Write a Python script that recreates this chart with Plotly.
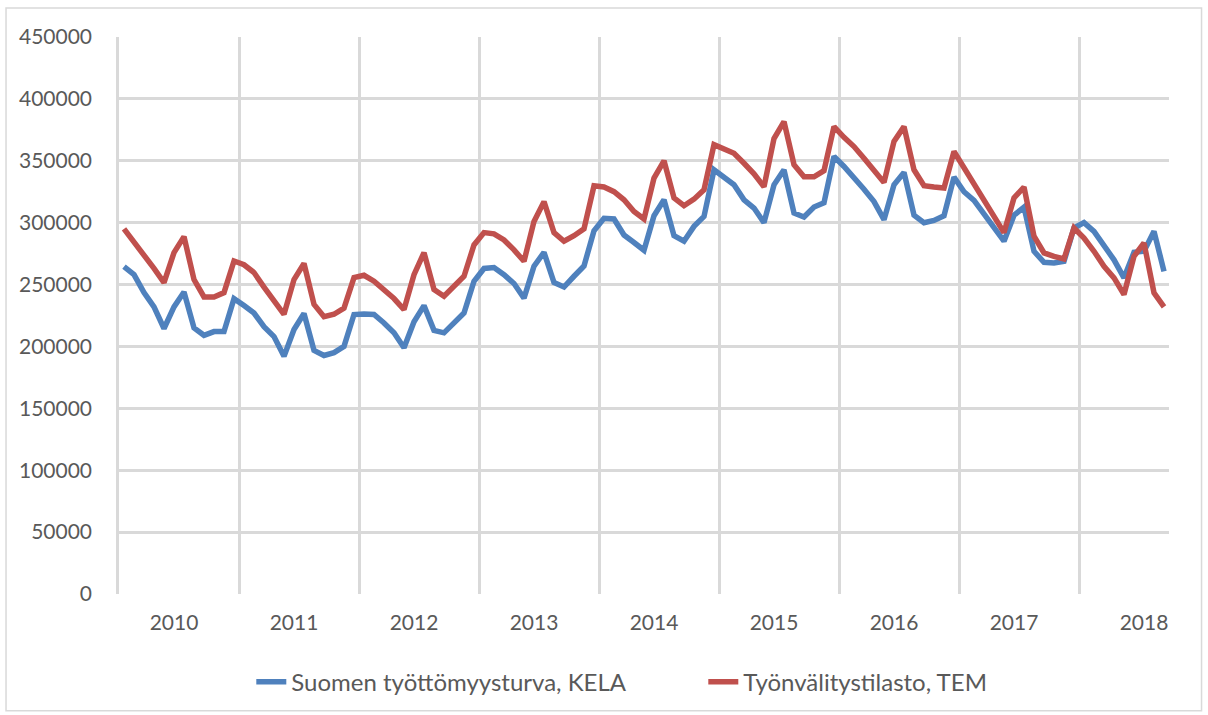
import plotly.graph_objects as go

# dati mensili gen 2010 - set 2018
months = list(range(105))

kela = [
    264500, 258000, 243500, 232000, 214500, 232000, 244000, 215000, 209000, 212000, 212000, 238600,
    233000, 227000, 216000, 208000, 192000, 213700, 226600, 196800, 192700, 195000, 200000, 225800,
    226300, 225800, 219000, 211000, 199000, 220000, 233000, 213000, 211000, 219000, 227000, 252700,
    263000, 263700, 258000, 250800, 239000, 264800, 276000, 251600, 248000, 256700, 265000, 293500,
    303500, 303000, 290000, 284000, 277700, 305600, 318500, 289500, 285000, 297000, 305000, 342700,
    337000, 330600, 318500, 311800, 300000, 330600, 342700, 307800, 304600, 312600, 316000, 353500,
    345400, 336800, 327000, 317000, 302400, 330600, 340600, 306000, 300000, 301800, 305600, 336800,
    325000, 318000, 307000, 296500, 285000, 306000, 312600, 276900, 268000, 267500, 268800, 295700,
    300000, 293000, 281000, 270000, 255400, 276000, 277000, 293000, 260700,
]

tem = [
    295000, 284700, 274000, 263000, 251600, 275800, 288700, 254000, 240000, 240000, 243500, 269000,
    266000, 259700, 248000, 237000, 226000, 254000, 267000, 234000, 224000, 226000, 231000, 255600,
    257500, 252700, 246000, 238700, 229800, 258000, 275800, 246000, 240600, 249000, 256700, 282000,
    292000, 291000, 286000, 278000, 268800, 301000, 317000, 292000, 285000, 289500, 295000, 329800,
    328800, 325000, 318500, 309000, 303000, 336000, 350000, 320000, 313700, 319000, 326600, 363000,
    360000, 356000, 348000, 339500, 329000, 368000, 381700, 346800, 337000, 337000, 342000, 377600,
    369000, 361500, 352000, 342700, 332500, 365600, 377600, 342700, 329800, 328800, 328000, 357500,
    344000, 332500, 318500, 305000, 292000, 320000, 328800, 289000, 275600, 272800, 270700, 295700,
    287600, 276900, 264800, 255400, 242000, 272800, 283600, 243300, 232000,
]

year_labels = ["2010", "2011", "2012", "2013", "2014", "2015", "2016", "2017", "2018"]
year_pos = [5, 17, 29, 41, 53, 65, 77, 89, 102]

FONT = "Lato"
GRAY = "#595959"
GRID = "#D9D9D9"

fig = go.Figure()

fig.add_trace(go.Scatter(
    x=months, y=kela, mode="lines", name="Suomen työttömyysturva, KELA",
    line=dict(color="#4F81BD", width=5.5)
))
fig.add_trace(go.Scatter(
    x=months, y=tem, mode="lines", name="Työnvälitystilasto, TEM",
    line=dict(color="#C0504D", width=5.5)
))

fig.update_xaxes(
    range=[-0.5, 104.5],
    tickvals=year_pos,
    ticktext=year_labels,
    showgrid=False,
    zeroline=False,
    showline=False,
    ticks="",
    ticklabelstandoff=14,
    tickfont=dict(family=FONT, size=21, color=GRAY),
    minor=dict(tick0=-0.5, dtick=12, showgrid=True, gridcolor=GRID, gridwidth=2.5),
)

# linea sinistra = bordo della prima categoria
fig.update_yaxes(
    range=[0, 450000],
    dtick=50000,
    tickformat="d",
    showgrid=True,
    gridcolor=GRID,
    gridwidth=2.5,
    zeroline=False,
    showline=True,
    linecolor=GRID,
    linewidth=2.5,
    ticklabelstandoff=20,
    tickfont=dict(family=FONT, size=21, color=GRAY),
)

# cornice esterna del grafico
fig.add_shape(
    type="rect", xref="paper", yref="paper",
    x0=-0.1076, x1=1.031, y0=-0.2097, y1=1.052,
    line=dict(color=GRID, width=1.5), fillcolor="rgba(0,0,0,0)", layer="below"
)

fig.update_layout(
    width=1208,
    height=715,
    margin=dict(l=119, r=39, t=37, b=120),
    plot_bgcolor="white",
    paper_bgcolor="white",
    font=dict(family=FONT, color=GRAY),
    showlegend=True,
    legend=dict(
        orientation="h",
        x=0.126, xanchor="left",
        y=-0.156, yanchor="middle",
        font=dict(family=FONT, size=24, color=GRAY),
        entrywidth=407,
        entrywidthmode="pixels",
    ),
)

fig.write_html(
    "out.html",
    config={"displayModeBar": False},
    post_script="document.body.style.margin='0px';",
)
